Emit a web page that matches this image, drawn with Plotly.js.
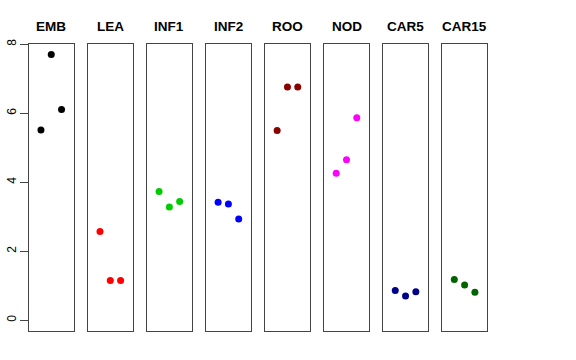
<!DOCTYPE html>
<html>
<head>
<meta charset="utf-8">
<script src="https://cdn.plot.ly/plotly-3.0.1.min.js"></script>
<style>html,body{margin:0;padding:0;background:#fff;}#chart{width:576px;height:360px;}</style>
</head>
<body>
<div id="chart"></div>
<script>
// Data
var groups = ["EMB", "LEA", "INF1", "INF2", "ROO", "NOD", "CAR5", "CAR15"];
var replicate = [1, 2, 3];
var EMB   = [5.51, 7.70, 6.11];
var LEA   = [2.57, 1.15, 1.15];
var INF1  = [3.73, 3.28, 3.44];
var INF2  = [3.42, 3.37, 2.93];
var ROO   = [5.50, 6.76, 6.76];
var NOD   = [4.26, 4.65, 5.87];
var CAR5  = [0.86, 0.70, 0.82];
var CAR15 = [1.18, 1.02, 0.81];
var seriesValues = [EMB, LEA, INF1, INF2, ROO, NOD, CAR5, CAR15];
var colors = ["#000000", "#FF0000", "#00CD00", "#0000FF", "#8B0000", "#FF00FF", "#00008B", "#006400"];
var yTickVals = [0, 2, 4, 6, 8];

var W = 576, H = 360;
var panelLeft0 = 29, panelWidth = 44.5, panelStep = 59.05;
var plotTop = 44, plotBottom = 330.7;

var traces = [];
var layout = {
  width: W, height: H,
  margin: {l: 0, r: 0, t: 0, b: 0},
  paper_bgcolor: "#ffffff", plot_bgcolor: "#ffffff",
  showlegend: false,
  font: {family: "Liberation Sans, Arial, sans-serif", color: "#000000"},
  annotations: []
};

for (var i = 0; i < groups.length; i++) {
  var n = i + 1;
  var xs = n === 1 ? "x" : "x" + n;
  var ys = n === 1 ? "y" : "y" + n;
  var xa = n === 1 ? "xaxis" : "xaxis" + n;
  var ya = n === 1 ? "yaxis" : "yaxis" + n;
  var left = panelLeft0 + i * panelStep;
  var right = left + panelWidth;
  traces.push({
    type: "scatter", mode: "markers",
    x: replicate, y: seriesValues[i],
    xaxis: xs, yaxis: ys,
    marker: {color: colors[i], size: 7, line: {width: 0}},
    hoverinfo: "skip"
  });
  layout[xa] = {
    domain: [left / W, right / W],
    range: [-0.16, 4.16],
    anchor: ys,
    showgrid: false, zeroline: false, showticklabels: false, ticks: "",
    showline: true, mirror: true, linecolor: "#444444", linewidth: 1
  };
  var yax = {
    domain: [(H - plotBottom) / H, (H - plotTop) / H],
    range: [-0.308, 8.008],
    anchor: xs,
    showgrid: false, zeroline: false,
    showline: true, mirror: true, linecolor: "#444444", linewidth: 1
  };
  if (n === 1) {
    yax.tickvals = yTickVals;
    yax.ticktext = yTickVals.map(String);
    yax.ticks = "outside";
    yax.ticklen = 8;
    yax.tickcolor = "#444444";
    yax.tickangle = -90;
    yax.ticklabelstandoff = -1;
    yax.tickfont = {size: 12, color: "#000000", family: "Liberation Sans, Arial, sans-serif"};
  } else {
    yax.showticklabels = false;
    yax.ticks = "";
    yax.matches = "y";
  }
  layout[ya] = yax;
  layout.annotations.push({
    text: "<b>" + groups[i] + "</b>",
    xref: "paper", yref: "paper",
    x: (left + right) / 2 / W, y: (H - 27) / H,
    xanchor: "center", yanchor: "middle",
    showarrow: false,
    font: {size: 13.5, color: "#000000", family: "Liberation Sans, Arial, sans-serif"}
  });
}

Plotly.newPlot("chart", traces, layout, {staticPlot: true, displayModeBar: false});
</script>
</body>
</html>
